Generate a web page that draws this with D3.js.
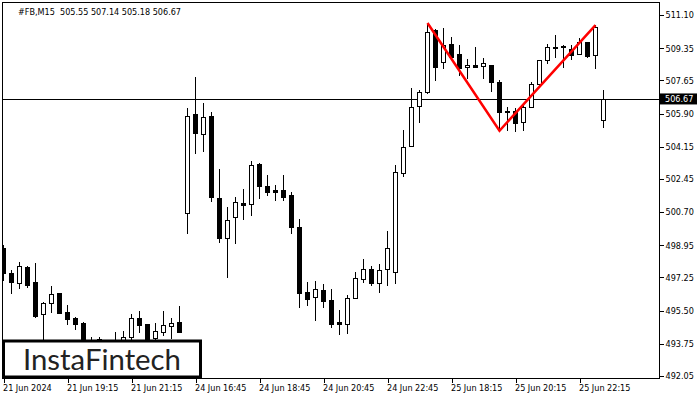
<!DOCTYPE html>
<html><head><meta charset="utf-8">
<script src="https://cdn.jsdelivr.net/npm/d3@7/dist/d3.min.js"></script>
<style>
html,body{margin:0;padding:0;background:#fff;}
svg{display:block;}
.lbl{font-family:"DejaVu Sans Condensed","DejaVu Sans",sans-serif;font-stretch:condensed;font-size:9px;fill:#000;}
</style></head>
<body>
<svg id="c" width="700" height="400"></svg>
<script>
const symbolTitle = "#FB,M15";
const headerValues = ["505.55","507.14","505.18","506.67"];
const openV  = [498.80,497.50,496.97,497.82,497.03,495.31,495.89,496.41,495.44,495.10,494.86,493.60,494.02,493.50,493.40,493.70,494.09,495.10,494.79,494.04,494.39,494.70,494.88,500.67,505.88,504.80,505.77,501.46,499.32,500.43,501.16,501.11,503.24,502.08,501.87,501.87,501.60,499.90,496.47,496.20,496.57,496.04,494.88,494.81,496.15,497.15,497.70,496.94,497.68,497.55,502.78,504.20,506.31,507.05,510.31,508.60,509.55,509.04,508.34,508.46,508.43,508.46,507.58,506.03,506.03,505.44,506.26,507.46,508.73,509.37,509.41,509.29,509.03,509.69,508.99,505.55];
const highV  = [498.96,497.64,498.05,497.86,498.00,495.97,496.80,496.43,495.80,495.15,494.90,494.11,494.09,493.70,494.39,494.44,495.32,495.48,494.79,494.83,495.48,495.10,495.74,506.21,507.84,506.47,506.00,502.97,500.98,501.51,501.90,503.40,503.31,502.66,502.13,502.66,501.78,500.32,496.99,497.06,496.91,496.64,495.53,496.32,497.52,498.22,497.86,497.96,499.70,503.18,505.03,507.23,507.14,510.63,510.35,510.40,509.92,509.52,508.76,509.40,508.82,508.46,507.67,506.23,506.18,506.35,507.58,508.73,509.55,510.05,509.50,509.52,509.87,509.69,510.57,507.14];
const lowV   = [497.12,496.43,496.68,496.75,495.15,493.60,495.44,495.36,494.79,494.51,493.63,493.20,493.50,493.10,493.20,493.50,494.00,494.39,493.58,493.90,494.21,494.04,494.39,499.61,503.80,503.94,501.30,499.14,497.29,499.08,500.35,500.55,501.46,501.60,501.34,501.34,499.61,495.71,495.80,495.00,495.71,494.65,494.25,494.33,496.15,496.99,496.85,496.50,496.85,496.97,502.62,504.20,505.47,507.00,507.67,508.29,508.90,507.93,507.76,508.34,507.76,507.09,504.99,505.03,504.99,505.03,506.26,507.41,508.55,508.90,508.37,508.76,509.03,508.90,508.29,505.18];
const closeV = [497.49,497.03,497.86,496.85,495.22,495.89,496.36,495.39,495.04,494.79,493.79,493.40,493.70,493.30,493.80,494.09,495.10,494.74,493.69,494.42,494.74,494.83,494.39,505.77,504.86,505.70,501.51,499.32,500.28,501.22,501.09,503.18,502.09,501.78,501.76,501.51,499.89,496.45,496.10,496.63,496.02,494.81,494.81,496.15,497.21,497.68,496.97,497.63,498.79,502.83,504.13,506.26,507.02,510.22,508.37,509.52,508.90,508.29,508.46,508.37,508.58,507.58,506.00,506.00,505.39,506.26,507.46,508.73,509.40,509.43,509.44,508.99,509.69,508.94,510.48,506.67];
const yTickValues = [511.10,509.35,507.65,505.90,504.15,502.45,500.70,498.95,497.25,495.50,493.75,492.05];
const xTickIndex  = [0,8,16,24,32,40,48,56,64,72];
const xTickLabels = ["21 Jun 2024","21 Jun 19:15","21 Jun 21:15","24 Jun 16:45","24 Jun 18:45","24 Jun 20:45","24 Jun 22:45","25 Jun 18:15","25 Jun 20:15","25 Jun 22:15"];
const currentPrice = 506.67;
const patternIndex = [53,62,74];
const patternPrice = [510.68,504.99,510.57];
const logoText = "InstaFintech";

const svg = d3.select("#c");
const L = 2, R = 659, T = 2, B = 378;
const x = d3.scaleLinear().domain([0, 75]).range([3.5, 603.5]);
const y = d3.scaleLinear().domain([492.05, 511.10]).range([376, 15]);

const data = openV.map((o,i)=>({i, o, h:highV[i], l:lowV[i], c:closeV[i]}));

svg.append("clipPath").attr("id","pc").append("rect")
  .attr("x",L).attr("y",T).attr("width",R-L).attr("height",B-T);
const plot = svg.append("g").attr("clip-path","url(#pc)");

// current price line
plot.append("line").attr("x1",L).attr("x2",R)
  .attr("y1",Math.round(y(currentPrice))+0.5).attr("y2",Math.round(y(currentPrice))+0.5)
  .attr("stroke","#000").attr("stroke-width",1);

const cg = plot.append("g").attr("shape-rendering","crispEdges");
cg.selectAll("line.w").data(data).join("line")
  .attr("x1",d=>x(d.i)).attr("x2",d=>x(d.i))
  .attr("y1",d=>Math.round(y(d.h))).attr("y2",d=>Math.round(y(d.l))+1)
  .attr("stroke","#000").attr("stroke-width",1);
cg.selectAll("rect.b").data(data).join("rect")
  .attr("x",d=>x(d.i)-2).attr("width",4)
  .attr("y",d=>Math.round(y(Math.max(d.o,d.c)))+0.5)
  .attr("height",d=>Math.max(0,Math.round(y(Math.min(d.o,d.c)))-Math.round(y(Math.max(d.o,d.c)))))
  .attr("fill",d=>d.c>=d.o?"#fff":"#000")
  .attr("stroke","#000").attr("stroke-width",1);

// pattern
plot.append("path")
  .datum(patternIndex.map((p,k)=>[x(p),y(patternPrice[k])]))
  .attr("d",d3.line())
  .attr("fill","none").attr("stroke","#ff0000").attr("stroke-width",2.5);

// frame
svg.append("rect").attr("x",L+0.5).attr("y",T+0.5).attr("width",R-L).attr("height",B-T)
  .attr("fill","none").attr("stroke","#000").attr("stroke-width",1).attr("shape-rendering","crispEdges");

// y axis
const ya = svg.append("g").attr("transform",`translate(${R+0.5},0)`)
  .call(d3.axisRight(y).tickValues(yTickValues).tickFormat(d3.format(".2f")).tickSize(4).tickPadding(2));
ya.select(".domain").remove();
ya.selectAll("line").attr("stroke","#000").attr("shape-rendering","crispEdges");
ya.selectAll("text").attr("class","lbl").attr("fill","#000").attr("font-family",null).attr("font-size",null);

// x axis
const xa = svg.append("g").attr("transform",`translate(0,${B+0.5})`)
  .call(d3.axisBottom(x).tickValues(xTickIndex).tickFormat((d,k)=>xTickLabels[k]).tickSize(4).tickPadding(2));
xa.select(".domain").remove();
xa.selectAll("line").attr("stroke","#000").attr("shape-rendering","crispEdges");
xa.selectAll("text").attr("class","lbl").attr("text-anchor","start").attr("dx",-1)
  .attr("font-family",null).attr("font-size",null);

// current price label
const py = y(currentPrice);
svg.append("rect").attr("x",R+1).attr("y",py-5.5).attr("width",37).attr("height",11).attr("fill","#000");
svg.append("text").attr("class","lbl").attr("x",R+6).attr("y",py+3.5).attr("fill","#fff").style("fill","#fff")
  .text(currentPrice.toFixed(2));

// header
svg.append("text").attr("class","lbl").attr("x",18).attr("y",15).attr("xml:space","preserve")
  .style("white-space","pre")
  .text(symbolTitle + "  " + headerValues.join(" "));

// logo
svg.append("rect").attr("x",3.5).attr("y",341).attr("width",197).attr("height",36)
  .attr("fill","#fff").attr("stroke","#000").attr("stroke-width",3);
svg.append("text").attr("x",23).attr("y",369.5)
  .attr("font-family","Lato, 'Open Sans', sans-serif").attr("font-size",28).attr("fill","#222")
  .attr("textLength",158).attr("lengthAdjust","spacingAndGlyphs")
  .text(logoText);
</script>
</body></html>
